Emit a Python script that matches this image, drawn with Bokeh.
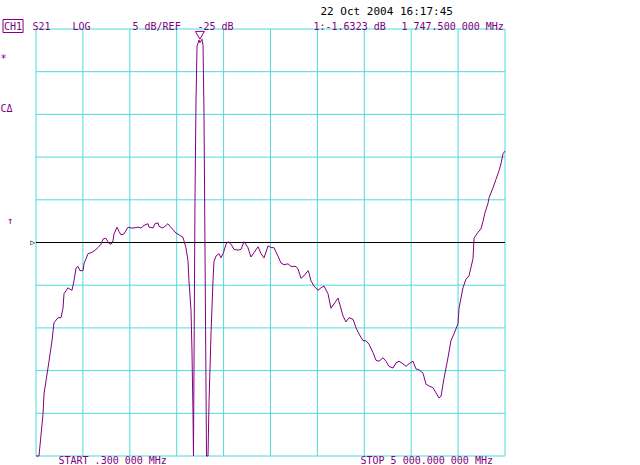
from bokeh.plotting import figure
from bokeh.models import Range1d, Label, ColumnDataSource
from bokeh.transform import dodge
from bokeh.embed import file_html
from bokeh.resources import INLINE

# ---------------- data ----------------
START_MHZ = 0.3
STOP_MHZ = 5000.0
REF_DB = -25.0
SCALE_DB = 5.0
N_DIV = 10

freq_mhz = [0.3, 32, 75, 86, 107, 139, 171, 192, 235, 267, 288, 299, 341, 352, 384, 405, 427, 448, 469,
            501, 512, 555, 587, 619, 661, 693, 715, 746, 778, 800, 821, 832, 864, 885, 906, 938, 981,
            1013, 1045, 1088, 1120, 1152, 1194, 1205, 1248, 1269, 1301, 1312, 1344, 1365, 1407, 1429,
            1461, 1493, 1525, 1567, 1578, 1599, 1621, 1631, 1653, 1663, 1674, 1679, 1695, 1706, 1717,
            1738, 1747.5, 1770, 1781, 1791, 1802, 1818, 1834, 1845, 1866, 1887, 1898, 1919, 1951, 1972,
            1994, 2004, 2026, 2047, 2079, 2111, 2154, 2186, 2218, 2260, 2292, 2324, 2367, 2399, 2431,
            2474, 2505, 2537, 2580, 2612, 2644, 2687, 2719, 2772, 2793, 2825, 2857, 2900, 2911, 2932,
            2964, 3007, 3039, 3070, 3113, 3145, 3177, 3220, 3230, 3273, 3305, 3337, 3380, 3412, 3444,
            3486, 3518, 3550, 3593, 3625, 3657, 3699, 3731, 3763, 3806, 3838, 3870, 3913, 3945, 3977,
            4019, 4051, 4083, 4126, 4158, 4190, 4232, 4264, 4296, 4318, 4350, 4392, 4424, 4456, 4499,
            4510, 4552, 4584, 4616, 4659, 4670, 4712, 4744, 4766, 4787, 4819, 4829, 4872, 4904, 4936,
            4957, 4979, 5000]
s21_db = [-50.0, -50.0, -45.1, -42.7, -41.2, -38.9, -36.5, -34.4, -33.8, -33.8, -32.7, -31.0, -30.3, -30.4,
          -30.6, -29.5, -28.0, -27.8, -28.3, -28.3, -27.5, -26.3, -26.2, -26.0, -25.6, -25.2, -24.6, -24.5,
          -25.1, -25.2, -24.8, -24.0, -23.2, -23.7, -24.1, -24.0, -23.2, -23.3, -23.3, -23.2, -23.3, -23.0,
          -22.8, -23.2, -23.3, -22.8, -22.7, -23.1, -23.3, -23.2, -22.8, -23.1, -23.5, -23.9, -24.1, -24.4,
          -24.8, -25.6, -27.2, -29.5, -33.0, -37.7, -45.1, -50.0, -20.1, -8.4, -2.0, -1.3, -1.6, -1.2,
          -1.9, -9.6, -26.0, -50.0, -50.0, -43.6, -35.7, -29.5, -27.2, -26.6, -26.3, -26.8, -26.3, -26.0,
          -25.2, -24.9, -25.2, -25.8, -25.9, -25.8, -24.9, -25.6, -26.7, -26.2, -25.5, -26.3, -26.8, -25.4,
          -25.6, -25.6, -26.6, -27.4, -27.6, -27.5, -27.8, -27.8, -28.1, -29.2, -28.9, -28.3, -28.6, -29.5,
          -30.1, -30.6, -30.3, -30.1, -31.0, -32.7, -32.2, -31.5, -31.9, -33.6, -34.3, -33.8, -34.0, -35.0,
          -35.7, -36.5, -36.5, -36.9, -37.9, -38.8, -38.9, -38.5, -38.9, -39.5, -39.7, -39.1, -38.9, -39.2,
          -39.5, -39.2, -38.9, -39.8, -39.9, -40.3, -41.6, -41.8, -42.0, -42.6, -43.2, -43.0, -40.9, -38.5,
          -36.5, -35.7, -34.5, -32.7, -30.3, -29.3, -28.9, -26.9, -24.5, -23.8, -23.4, -22.5, -21.5, -20.4,
          -19.8, -18.6, -17.6, -16.6, -15.8, -14.6, -14.3]

marker_freq = [1747.5]
marker_db = [-1.6323]

header_texts = ["S21", "LOG", "5 dB/REF", "-25 dB"]
marker_readout = ["1:-1.6323 dB", "1 747.500 000 MHz"]
date_text = "22 Oct 2004  16:17:45"
start_text = "START  .300 000 MHz"
stop_text = "STOP 5 000.000 000 MHz"
side_texts = ["*", "C\u0394", "\u2191"]

# ---------------- style / layout ----------------
CYAN = "#4cdcdc"
PURPLE = "#800080"
FONT = "DejaVu Sans Mono"
W, H = 640, 465
GRID_W, GRID_H = 469, 427          # pixel size of the 10x10 graticule
PAD_L, PAD_T = 35.5, 28.5          # graticule offset inside the canvas

top_db = REF_DB + SCALE_DB * N_DIV / 2
bot_db = REF_DB - SCALE_DB * N_DIV / 2
mhz_px = (STOP_MHZ - START_MHZ) / GRID_W
db_px = (top_db - bot_db) / GRID_H

x_range = Range1d(START_MHZ - PAD_L * mhz_px, STOP_MHZ + (W - PAD_L - GRID_W) * mhz_px)
y_range = Range1d(bot_db - (H - PAD_T - GRID_H) * db_px, top_db + PAD_T * db_px)

p = figure(width=W, height=H, title=None, x_range=x_range, y_range=y_range,
           x_axis_type=None, y_axis_type=None,
           output_backend="svg", toolbar_location=None, min_border=0,
           background_fill_color="white", border_fill_color="white")
p.outline_line_color = None

xt = [START_MHZ + k * (STOP_MHZ - START_MHZ) / N_DIV for k in range(N_DIV + 1)]
yt = [bot_db + k * SCALE_DB for k in range(N_DIV + 1)]

# graticule
p.segment(x0=xt, x1=xt, y0=[bot_db] * len(xt), y1=[top_db] * len(xt), line_color=CYAN, line_width=1)
p.segment(x0=[START_MHZ] * len(yt), x1=[STOP_MHZ] * len(yt), y0=yt, y1=yt, line_color=CYAN, line_width=1)

# reference line
p.segment(x0=[START_MHZ], x1=[STOP_MHZ], y0=[REF_DB], y1=[REF_DB], line_color="black", line_width=1)

# trace
p.line(freq_mhz, s21_db, line_color=PURPLE, line_width=1)

# marker 1
msrc = ColumnDataSource(dict(f=marker_freq, db=marker_db))
p.scatter(x="f", y=dodge("db", 1.05), source=msrc, marker="inverted_triangle", size=9,
          fill_color=None, line_color=PURPLE, line_width=1)


def lab(text, x, y, dx, dy, color=PURPLE, size="10px", align="left", baseline="alphabetic", **kw):
    p.add_layout(Label(x=x, y=y, x_offset=dx, y_offset=dy, text=text, text_color=color,
                       text_font=FONT, text_font_size=size, text_align=align,
                       text_baseline=baseline, **kw))


# header row
lab("CH1", START_MHZ, top_db, -33, 3, border_line_color=PURPLE, padding=1)
for t, dx in zip(header_texts, [-3.5, 36.5, 96.5, 161.5]):
    lab(t, START_MHZ, top_db, dx, 3)
for t, dx in zip(marker_readout, [277.5, 365.5]):
    lab(t, START_MHZ, top_db, dx, 3)
lab(date_text, START_MHZ, top_db, 284.5, 18, color="black", size="11px")

# side annotations
for t, dx, dy in zip(side_texts, [-35.5, -35.5, -29], [-29.5, -79.5, -191.5]):
    lab(t, START_MHZ, top_db, dx, dy, baseline="middle")

# reference position marker
lab("\u25b7", START_MHZ, REF_DB, -1, 0, color="black", size="8px", align="right", baseline="middle")

# bottom row
lab(start_text, START_MHZ, bot_db, 22.5, -4)
lab(stop_text, START_MHZ, bot_db, 324.5, -4)

open("out.html", "w").write(file_html(p, INLINE))
